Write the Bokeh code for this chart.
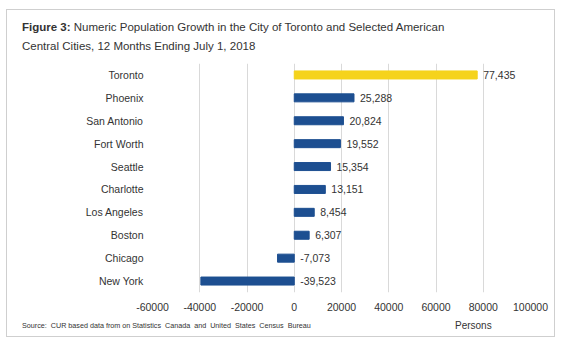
from bokeh.plotting import figure
from bokeh.layouts import column
from bokeh.models import ColumnDataSource, Div, FactorRange, FixedTicker, NumeralTickFormatter
from bokeh.embed import file_html
from bokeh.resources import INLINE
from bokeh.core.properties import value

cities = ["Toronto", "Phoenix", "San Antonio", "Fort Worth", "Seattle", "Charlotte",
          "Los Angeles", "Boston", "Chicago", "New York"]
growth = [77435, 25288, 20824, 19552, 15354, 13151, 8454, 6307, -7073, -39523]
labels = ["77,435", "25,288", "20,824", "19,552", "15,354", "13,151", "8,454", "6,307", "-7,073", "-39,523"]
colors = ["#F5D31C"] + ["#1D4F91"] * 9
x_ticks = [-60000, -40000, -20000, 0, 20000, 40000, 60000, 80000, 100000]

title_bold = "Figure 3:"
title_line1 = "Numeric Population Growth in the City of Toronto and Selected American"
title_line2 = "Central Cities, 12 Months Ending July 1, 2018"
source_text = "Source:&nbsp; CUR based data from on Statistics&nbsp; Canada&nbsp; and&nbsp; United&nbsp; States&nbsp; Census&nbsp; Bureau"
unit_text = "Persons"

FONT = "'Liberation Sans', Arial, sans-serif"
TXT = "#333333"

src = ColumnDataSource(dict(city=cities, v=growth, lab=labels, color=colors,
                            lx=[max(g, 0) for g in growth]))

# inner area of the bordered box: page x 7..554, y 10..336
# title div: y 10..58, figure: y 58..316, bottom div: y 316..336
p = figure(width=547, height=258, output_backend="svg", toolbar_location=None,
           y_range=FactorRange(factors=cities[::-1]), x_range=(-60000, 100000),
           min_border_left=145, min_border_right=24, min_border_top=5, min_border_bottom=24,
           margin=0)
p.outline_line_color = None
p.background_fill_color = "white"
p.border_fill_color = "white"

p.hbar(y="city", left=0, right="v", height=0.35, color="color", source=src)
p.text(x="lx", y="city", text="lab", source=src, x_offset=6, text_baseline="middle",
       text_font=value(FONT), text_font_size="10.5px", text_color=TXT)

p.xaxis.ticker = FixedTicker(ticks=x_ticks)
p.xaxis.formatter = NumeralTickFormatter(format="0")
for ax in (p.xaxis, p.yaxis):
    ax.axis_line_color = None
    ax.major_tick_line_color = None
    ax.minor_tick_line_color = None
    ax.major_tick_out = 0
    ax.major_tick_in = 0
    ax.major_label_text_font = FONT
    ax.major_label_text_font_size = "10.5px"
    ax.major_label_text_color = TXT
p.xaxis.major_label_standoff = 10
p.yaxis.major_label_standoff = 9

p.ygrid.grid_line_color = None
p.xgrid.grid_line_color = "#D9D9D9"
p.xgrid.grid_line_width = 1

span = "position:absolute;white-space:nowrap;font-family:{f};color:{c};".format(f=FONT, c=TXT)

title_html = (
    '<div style="position:relative;width:547px;height:48px;">'
    f'<span style="{span}left:15px;top:11px;font-size:11.5px;line-height:12px;">'
    f'<b>{title_bold}</b> {title_line1}</span>'
    f'<span style="{span}left:15px;top:30px;font-size:11.5px;line-height:12px;">{title_line2}</span>'
    '</div>'
)
bottom_html = (
    '<div style="position:relative;width:547px;height:20px;">'
    f'<span style="{span}left:15px;top:6px;font-size:7.2px;line-height:8px;">{source_text}</span>'
    f'<span style="{span}left:448px;top:5px;font-size:10px;line-height:10px;">{unit_text}</span>'
    '</div>'
)

title_div = Div(text=title_html, width=547, height=48, margin=0)
bottom_div = Div(text=bottom_html, width=547, height=20, margin=0)

layout = column(title_div, p, bottom_div, spacing=0, margin=(9, 0, 0, 6),
                styles={"border": "1px solid #CFCFCF", "box-sizing": "content-box",
                        "background-color": "white"})

open("out.html", "w").write(file_html(layout, INLINE))
